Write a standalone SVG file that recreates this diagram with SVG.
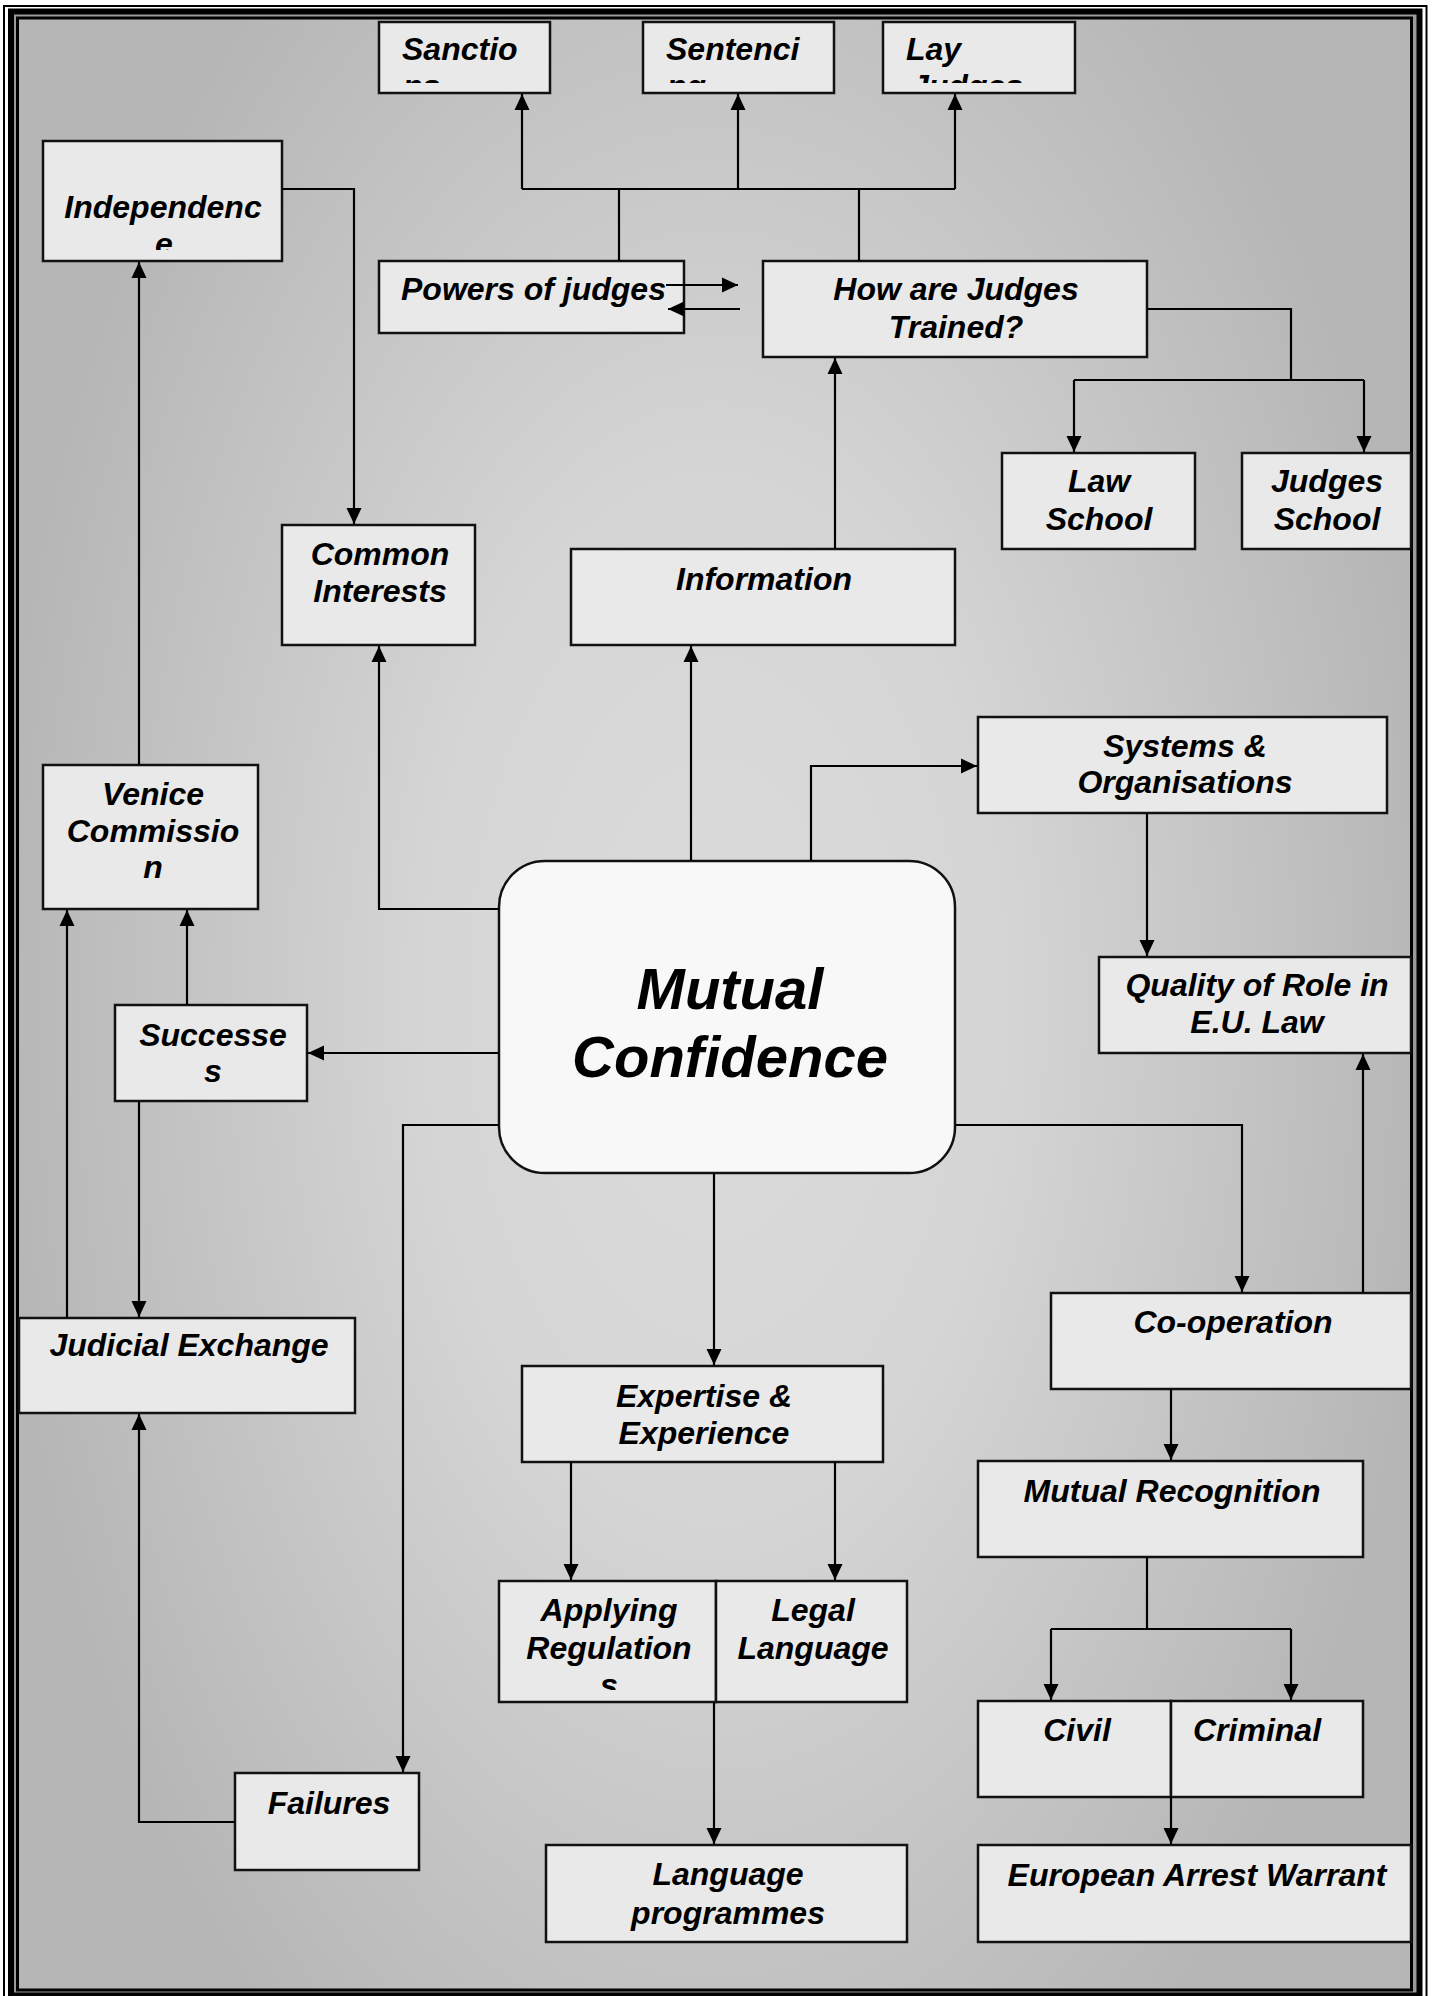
<svg xmlns="http://www.w3.org/2000/svg" width="1440" height="1996" viewBox="0 0 1440 1996">
<style>
.box{fill:#e9e9e9;stroke:#111;stroke-width:2.5}
.mc{fill:#f8f8f8;stroke:#111;stroke-width:2.5}
.t{font-family:"Liberation Sans",Arial,sans-serif;font-weight:bold;font-style:italic;font-size:32px;fill:#000}
.c{text-anchor:middle}
.big{font-size:58px}
.ln{fill:none;stroke:#000;stroke-width:2.2}
.ar{marker-end:url(#ah)}
</style>
<defs>
<radialGradient id="bg" gradientUnits="userSpaceOnUse" cx="715" cy="1000" r="720" gradientTransform="translate(715 1000) scale(1 1.8) translate(-715 -1000)">
<stop offset="0" stop-color="#dcdcdc"/>
<stop offset="0.4" stop-color="#d5d5d5"/>
<stop offset="1" stop-color="#b6b6b6"/>
</radialGradient>
<marker id="ah" markerUnits="userSpaceOnUse" markerWidth="17" markerHeight="16" refX="16" refY="8" orient="auto">
<path d="M0,0.5 L16,8 L0,15.5 Z" fill="#000"/>
</marker>
<clipPath id="clipTop"><rect x="370" y="22" width="720" height="61"/></clipPath>
<clipPath id="clipInd"><rect x="43" y="141" width="239" height="109"/></clipPath>
<clipPath id="clipApp"><rect x="499" y="1581" width="217" height="109"/></clipPath>
</defs>
<rect x="0" y="0" width="1440" height="1996" fill="#fff"/>
<rect x="4" y="6" width="1422.5" height="2000" fill="none" stroke="#000" stroke-width="2"/>
<rect x="11" y="11.5" width="1408.5" height="1984" fill="#9a9a9a" stroke="#000" stroke-width="6"/>
<rect x="17.5" y="18" width="1394" height="1972" fill="url(#bg)" stroke="#000" stroke-width="3"/>

<g id="sanctions">
<rect class="box" x="379" y="22" width="171" height="71"/>
<g clip-path="url(#clipTop)"><text class="t" x="402" y="60">Sanctio</text><text class="t" x="403" y="97">ns</text></g>
</g>
<g id="sentencing">
<rect class="box" x="643" y="22" width="191" height="71"/>
<g clip-path="url(#clipTop)"><text class="t" x="666" y="60">Sentenci</text><text class="t" x="667" y="97">ng</text></g>
</g>
<g id="lay-judges">
<rect class="box" x="883" y="22" width="192" height="71"/>
<g clip-path="url(#clipTop)"><text class="t" x="906" y="60">Lay</text><text class="t" x="911" y="97">Judges</text></g>
</g>
<g id="independence">
<rect class="box" x="43" y="141" width="239" height="120"/>
<g clip-path="url(#clipInd)"><text class="t c" x="163" y="218">Independenc</text><text class="t c" x="164" y="255">e</text></g>
</g>
<g id="powers">
<rect class="box" x="379" y="261" width="305" height="72"/>
<text class="t" x="401" y="300">Powers of judges</text>
</g>
<g id="how-trained">
<rect class="box" x="763" y="261" width="384" height="96"/>
<text class="t c" x="956" y="300">How are Judges</text>
<text class="t c" x="956" y="338">Trained?</text>
</g>
<g id="law-school">
<rect class="box" x="1002" y="453" width="193" height="96"/>
<text class="t c" x="1099" y="492">Law</text>
<text class="t c" x="1099" y="530">School</text>
</g>
<g id="judges-school">
<rect class="box" x="1242" y="453" width="169" height="96"/>
<text class="t c" x="1327" y="492">Judges</text>
<text class="t c" x="1327" y="530">School</text>
</g>
<g id="common-interests">
<rect class="box" x="282" y="525" width="193" height="120"/>
<text class="t c" x="380" y="565">Common</text>
<text class="t c" x="380" y="602">Interests</text>
</g>
<g id="information">
<rect class="box" x="571" y="549" width="384" height="96"/>
<text class="t c" x="764" y="590">Information</text>
</g>
<g id="systems">
<rect class="box" x="978" y="717" width="409" height="96"/>
<text class="t c" x="1185" y="757">Systems &amp;</text>
<text class="t c" x="1185" y="793">Organisations</text>
</g>
<g id="venice">
<rect class="box" x="43" y="765" width="215" height="144"/>
<text class="t c" x="153" y="805">Venice</text>
<text class="t c" x="153" y="842">Commissio</text>
<text class="t c" x="153" y="878">n</text>
</g>
<g id="mutual-confidence">
<rect class="mc" x="499" y="861" width="456" height="312" rx="46" ry="46"/>
<text class="t c big" x="730" y="1009">Mutual</text>
<text class="t c big" x="730" y="1077">Confidence</text>
</g>
<g id="quality">
<rect class="box" x="1099" y="957" width="312" height="96"/>
<text class="t c" x="1257" y="996">Quality of Role in</text>
<text class="t c" x="1257" y="1033">E.U. Law</text>
</g>
<g id="successes">
<rect class="box" x="115" y="1005" width="192" height="96"/>
<text class="t c" x="213" y="1046">Successe</text>
<text class="t c" x="213" y="1082">s</text>
</g>
<g id="co-operation">
<rect class="box" x="1051" y="1293" width="360" height="96"/>
<text class="t c" x="1233" y="1333">Co-operation</text>
</g>
<g id="judicial-exchange">
<rect class="box" x="19" y="1318" width="336" height="95"/>
<text class="t c" x="189" y="1356">Judicial Exchange</text>
</g>
<g id="expertise">
<rect class="box" x="522" y="1366" width="361" height="96"/>
<text class="t c" x="704" y="1407">Expertise &amp;</text>
<text class="t c" x="704" y="1444">Experience</text>
</g>
<g id="mutual-recognition">
<rect class="box" x="978" y="1461" width="385" height="96"/>
<text class="t c" x="1172" y="1502">Mutual Recognition</text>
</g>
<g id="applying">
<rect class="box" x="499" y="1581" width="217" height="121"/>
<g clip-path="url(#clipApp)"><text class="t c" x="609" y="1621">Applying</text><text class="t c" x="609" y="1659">Regulation</text><text class="t c" x="609" y="1696">s</text></g>
</g>
<g id="legal-language">
<rect class="box" x="716" y="1581" width="191" height="121"/>
<text class="t c" x="813" y="1621">Legal</text>
<text class="t c" x="813" y="1659">Language</text>
</g>
<g id="civil">
<rect class="box" x="978" y="1701" width="193" height="96"/>
<text class="t c" x="1077" y="1741">Civil</text>
</g>
<g id="criminal">
<rect class="box" x="1171" y="1701" width="192" height="96"/>
<text class="t c" x="1257" y="1741">Criminal</text>
</g>
<g id="failures">
<rect class="box" x="235" y="1773" width="184" height="97"/>
<text class="t c" x="329" y="1814">Failures</text>
</g>
<g id="language-programmes">
<rect class="box" x="546" y="1845" width="361" height="97"/>
<text class="t c" x="728" y="1885">Language</text>
<text class="t c" x="728" y="1924">programmes</text>
</g>
<g id="eaw">
<rect class="box" x="978" y="1845" width="433" height="97"/>
<text class="t c" x="1197" y="1886">European Arrest Warrant</text>
</g>

<g id="connectors">
<path class="ln" d="M522,189 H955"/>
<path class="ln" d="M619,261 V189"/>
<path class="ln" d="M859,261 V189"/>
<path class="ln ar" d="M522,189 V94"/>
<path class="ln ar" d="M738,189 V94"/>
<path class="ln ar" d="M955,189 V94"/>
<path class="ln ar" d="M666,285 H738"/>
<path class="ln ar" d="M740,309 H668"/>
<path class="ln" d="M1147,309 H1291 V380"/>
<path class="ln" d="M1074,380 H1364"/>
<path class="ln ar" d="M1074,380 V452"/>
<path class="ln ar" d="M1364,380 V452"/>
<path class="ln ar" d="M282,189 H354 V524"/>
<path class="ln ar" d="M139,765 V262"/>
<path class="ln ar" d="M499,909 H379 V646"/>
<path class="ln ar" d="M691,861 V646"/>
<path class="ln ar" d="M835,549 V358"/>
<path class="ln ar" d="M811,861 V766 H977"/>
<path class="ln ar" d="M1147,813 V956"/>
<path class="ln ar" d="M499,1053 H308"/>
<path class="ln ar" d="M187,1005 V910"/>
<path class="ln ar" d="M139,1101 V1317"/>
<path class="ln ar" d="M67,1318 V910"/>
<path class="ln ar" d="M235,1822 H139 V1414"/>
<path class="ln ar" d="M499,1125 H403 V1772"/>
<path class="ln ar" d="M714,1173 V1365"/>
<path class="ln ar" d="M955,1125 H1242 V1292"/>
<path class="ln ar" d="M1363,1293 V1054"/>
<path class="ln ar" d="M571,1462 V1580"/>
<path class="ln ar" d="M835,1462 V1580"/>
<path class="ln ar" d="M714,1702 V1844"/>
<path class="ln ar" d="M1171,1389 V1460"/>
<path class="ln" d="M1147,1557 V1629"/>
<path class="ln" d="M1051,1629 H1291"/>
<path class="ln ar" d="M1051,1629 V1700"/>
<path class="ln ar" d="M1291,1629 V1700"/>
<path class="ln ar" d="M1171,1797 V1844"/>
</g>
</svg>
